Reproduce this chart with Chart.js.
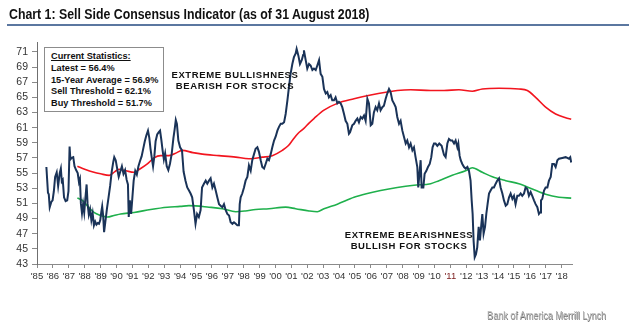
<!DOCTYPE html>
<html>
<head>
<meta charset="utf-8">
<script src="https://cdn.jsdelivr.net/npm/chart.js@4/dist/chart.umd.min.js"></script>
<style>
  html, body { margin: 0; padding: 0; background: #fff; overflow: hidden; }
  #wrap { position: relative; width: 637px; height: 336px; font-family: "Liberation Sans", Arial, sans-serif; }
  #chart { position: absolute; left: 0; top: 0; }
  .title { position: absolute; left: 9px; top: 6px; font-weight: bold; font-size: 14px; line-height: 16px; color: #111; white-space: nowrap; transform: scaleX(0.88); transform-origin: left top; }
  .rule { position: absolute; left: 7px; top: 24px; width: 622px; height: 1.5px; background: #5b77a0; }
  .stats { position: absolute; left: 44px; top: 47px; width: 120px; height: 65px; box-sizing: border-box; border: 1px solid #8c8c8c; background: #fff; padding: 3px 0 0 6px; font-weight: bold; font-size: 9.2px; line-height: 11.8px; color: #111; white-space: nowrap; }
  .stats u { text-decoration-thickness: 1px; }
  .note { position: absolute; width: 170px; text-align: center; font-weight: bold; font-size: 9.5px; letter-spacing: 0.6px; line-height: 10.6px; color: #111; white-space: nowrap; }
  .footer { position: absolute; right: 31px; top: 308px; font-size: 11px; line-height: 14px; color: #b4b4b4; text-shadow: 0.6px 0.6px 0 #6e6e6e; white-space: nowrap; transform: scaleX(0.82); transform-origin: right top; }
</style>
</head>
<body>
<div id="wrap">
  <canvas id="chart" width="637" height="336"></canvas>
  <div class="title">Chart 1: Sell Side Consensus Indicator (as of 31 August 2018)</div>
  <div class="rule"></div>
  <div class="stats">
    <u>Current Statistics:</u><br>
    Latest = 56.4%<br>
    15-Year Average = 56.9%<br>
    Sell Threshold = 62.1%<br>
    Buy Threshold = 51.7%
  </div>
  <div class="note" style="left:150px; top:70px;">EXTREME BULLISHNESS<br>BEARISH FOR STOCKS</div>
  <div class="note" style="left:324px; top:230px;">EXTREME BEARISHNESS<br>BULLISH FOR STOCKS</div>
  <div class="footer">Bank of America Merrill Lynch</div>
</div>
<script>
// Sell Side Consensus Indicator (fractional year, %)
const ssiYears = [
  1985.59, 1985.69, 1985.74, 1985.80, 1985.90, 1985.98, 1986.06, 1986.14, 1986.24, 1986.33,
  1986.43, 1986.50, 1986.56, 1986.62, 1986.70, 1986.80, 1986.90, 1986.98, 1987.05, 1987.10,
  1987.18, 1987.28, 1987.36, 1987.46, 1987.56, 1987.64, 1987.70, 1987.76, 1987.83, 1987.90,
  1987.97, 1988.04, 1988.12, 1988.18, 1988.26, 1988.34, 1988.42, 1988.50, 1988.58, 1988.66,
  1988.74, 1988.82, 1988.90, 1988.98, 1989.04, 1989.10, 1989.16, 1989.22, 1989.30, 1989.40,
  1989.50, 1989.60, 1989.70, 1989.80, 1989.86, 1989.95, 1990.05, 1990.14, 1990.24, 1990.34,
  1990.44, 1990.54, 1990.64, 1990.72, 1990.77, 1990.84, 1990.92, 1991.00, 1991.08, 1991.18,
  1991.28, 1991.38, 1991.48, 1991.58, 1991.68, 1991.78, 1991.88, 1991.98, 1992.06, 1992.14,
  1992.22, 1992.30, 1992.38, 1992.46, 1992.56, 1992.66, 1992.74, 1992.82, 1992.90, 1992.98,
  1993.06, 1993.16, 1993.26, 1993.36, 1993.47, 1993.58, 1993.66, 1993.73, 1993.80, 1993.89,
  1994.00, 1994.12, 1994.22, 1994.34, 1994.45, 1994.56, 1994.66, 1994.76, 1994.87, 1994.97,
  1995.07, 1995.18, 1995.29, 1995.38, 1995.50, 1995.61, 1995.71, 1995.82, 1995.92, 1996.03,
  1996.13, 1996.24, 1996.34, 1996.45, 1996.55, 1996.66, 1996.76, 1996.87, 1996.97, 1997.08,
  1997.18, 1997.29, 1997.39, 1997.50, 1997.60, 1997.70, 1997.75, 1997.81, 1997.91, 1998.02,
  1998.12, 1998.23, 1998.33, 1998.44, 1998.54, 1998.65, 1998.75, 1998.86, 1998.96, 1999.07,
  1999.17, 1999.28, 1999.38, 1999.49, 1999.59, 1999.70, 1999.80, 1999.91, 2000.01, 2000.12,
  2000.22, 2000.33, 2000.43, 2000.54, 2000.64, 2000.75, 2000.85, 2000.95, 2001.06, 2001.16,
  2001.27, 2001.33, 2001.44, 2001.54, 2001.65, 2001.74, 2001.79, 2001.90, 2002.00, 2002.11,
  2002.21, 2002.32, 2002.42, 2002.53, 2002.63, 2002.74, 2002.84, 2002.95, 2003.05, 2003.16,
  2003.26, 2003.36, 2003.47, 2003.57, 2003.68, 2003.78, 2003.89, 2003.99, 2004.10, 2004.20,
  2004.31, 2004.41, 2004.52, 2004.62, 2004.69, 2004.83, 2004.94, 2005.04, 2005.15, 2005.25,
  2005.36, 2005.46, 2005.57, 2005.67, 2005.78, 2005.88, 2005.99, 2006.09, 2006.19, 2006.30,
  2006.40, 2006.51, 2006.61, 2006.72, 2006.82, 2006.93, 2007.03, 2007.14, 2007.24, 2007.35,
  2007.45, 2007.56, 2007.66, 2007.77, 2007.87, 2007.98, 2008.08, 2008.19, 2008.29, 2008.40,
  2008.50, 2008.61, 2008.71, 2008.81, 2008.92, 2008.98, 2009.07, 2009.13, 2009.19, 2009.30,
  2009.38, 2009.49, 2009.59, 2009.70, 2009.80, 2009.88, 2009.97, 2010.07, 2010.18, 2010.30,
  2010.45, 2010.60, 2010.70, 2010.81, 2010.91, 2011.02, 2011.12, 2011.23, 2011.33, 2011.44,
  2011.50, 2011.58, 2011.65, 2011.75, 2011.86, 2011.96, 2012.07, 2012.17, 2012.27, 2012.34,
  2012.40, 2012.46, 2012.53, 2012.61, 2012.69, 2012.78, 2012.86, 2012.95, 2013.01, 2013.09,
  2013.18, 2013.26, 2013.34, 2013.43, 2013.53, 2013.64, 2013.74, 2013.85, 2013.95, 2014.06,
  2014.16, 2014.27, 2014.37, 2014.48, 2014.58, 2014.69, 2014.79, 2014.90, 2015.00, 2015.10,
  2015.21, 2015.31, 2015.42, 2015.52, 2015.63, 2015.73, 2015.84, 2015.94, 2016.05, 2016.15,
  2016.26, 2016.36, 2016.47, 2016.57, 2016.64, 2016.70, 2016.78, 2016.89, 2016.99, 2017.10,
  2017.20, 2017.31, 2017.41, 2017.52, 2017.62, 2017.73, 2017.83, 2018.04, 2018.25, 2018.46,
  2018.54, 2018.60
];
const ssiValues = [
  55.8, 52.4, 52.2, 50.5, 51.2, 51.4, 52.6, 54.5, 55.1, 53.3,
  55.0, 55.6, 53.9, 54.1, 51.8, 51.3, 51.4, 52.6, 58.5, 56.8,
  57.0, 57.1, 55.9, 55.4, 55.0, 53.8, 54.2, 51.0, 49.7, 50.9,
  49.8, 51.6, 53.5, 51.0, 49.5, 50.2, 48.8, 49.7, 48.1, 48.6,
  48.2, 48.4, 48.3, 48.8, 49.8, 50.6, 49.4, 47.2, 48.6, 50.3,
  51.8, 53.3, 55.2, 56.5, 57.1, 56.7, 55.5, 54.5, 55.2, 55.9,
  54.9, 55.4, 54.1, 53.5, 49.2, 51.4, 49.6, 51.8, 54.0, 55.3,
  54.8, 55.9, 56.6, 57.2, 58.2, 59.2, 60.0, 60.6, 59.7, 58.2,
  57.0, 55.9, 57.2, 59.2, 60.1, 60.4, 60.6, 59.4, 58.0, 56.8,
  57.6, 55.9, 55.4, 56.2, 57.5, 59.6, 60.8, 62.0, 61.5, 59.3,
  58.4, 58.0, 55.2, 54.0, 53.1, 52.7, 52.3, 51.8, 50.1, 48.3,
  49.6, 49.2, 50.1, 53.1, 53.6, 54.0, 53.6, 54.0, 54.3, 53.1,
  53.6, 52.7, 51.8, 50.9, 50.7, 50.5, 50.9, 50.1, 49.6, 49.4,
  48.5, 48.3, 48.5, 48.3, 48.1, 48.1, 50.9, 51.8, 52.3, 53.1,
  54.0, 54.5, 56.0, 55.3, 56.7, 57.5, 58.2, 58.4, 57.8, 56.7,
  55.8, 55.6, 56.2, 56.9, 56.7, 57.5, 58.4, 59.3, 59.8, 60.6,
  61.1, 61.5, 61.5, 61.7, 62.8, 64.6, 66.4, 68.1, 69.4, 70.3,
  70.8, 71.4, 70.5, 69.4, 69.9, 70.6, 71.2, 69.9, 68.8, 69.4,
  69.2, 68.6, 68.8, 68.6, 69.2, 69.9, 68.1, 67.7, 66.1, 65.5,
  65.7, 65.0, 65.3, 64.6, 64.6, 65.0, 64.2, 64.4, 64.2, 63.7,
  62.8, 61.9, 61.5, 60.2, 60.4, 61.3, 61.5, 61.9, 62.2, 61.7,
  62.4, 62.2, 62.6, 61.9, 64.8, 64.2, 61.3, 61.5, 63.0, 63.7,
  63.3, 64.2, 63.3, 63.7, 63.9, 64.8, 65.5, 66.1, 65.7, 64.6,
  64.2, 63.7, 62.4, 61.5, 61.9, 60.6, 59.8, 58.9, 59.3, 58.4,
  58.9, 58.0, 58.4, 57.1, 55.8, 53.1, 55.3, 56.7, 53.1, 53.1,
  54.9, 55.3, 55.8, 56.2, 57.1, 58.4, 58.9, 58.9, 58.6, 58.9,
  58.6, 57.4, 57.1, 58.9, 59.5, 59.3, 59.3, 58.9, 59.3, 58.4,
  58.9, 57.3, 56.7, 56.2, 55.8, 55.6, 55.8, 55.3, 54.0, 51.4,
  49.6, 46.1, 43.9, 44.3, 45.2, 47.9, 46.1, 48.3, 49.6, 47.0,
  47.9, 49.6, 50.9, 52.3, 52.7, 53.1, 53.1, 53.6, 54.0, 54.3,
  53.1, 52.3, 51.4, 50.7, 50.9, 51.8, 52.3, 51.6, 52.0, 50.9,
  52.0, 52.0, 52.3, 52.0, 52.3, 53.1, 52.9, 52.0, 52.5, 52.0,
  51.4, 50.9, 50.5, 49.6, 49.8, 51.4, 51.6, 52.7, 53.1, 53.1,
  54.0, 54.5, 56.2, 56.2, 55.8, 56.7, 56.9, 57.0, 57.1, 56.9,
  57.1, 56.4
];

// Sell threshold (red)
const sellYears = [
  1987.54, 1988.00, 1988.58, 1989.00, 1989.55, 1989.90, 1990.16, 1990.60, 1991.10, 1991.52,
  1991.94, 1992.36, 1992.78, 1993.30, 1993.80, 1994.14, 1994.80, 1995.40, 1996.45, 1997.50,
  1998.33, 1999.17, 1999.80, 2000.43, 2000.80, 2001.06, 2001.40, 2001.79, 2002.11, 2002.42,
  2003.05, 2003.89, 2004.94, 2005.99, 2007.03, 2007.66, 2008.50, 2009.76, 2010.60, 2011.54,
  2012.38, 2013.01, 2014.06, 2015.31, 2015.84, 2016.36, 2016.99, 2017.62, 2018.25, 2018.60
];
const sellValues = [
  55.9, 55.5, 55.1, 54.9, 54.7, 55.2, 55.5, 55.3, 55.1, 55.6,
  56.2, 57.0, 57.3, 57.3, 57.7, 58.0, 57.7, 57.5, 57.3, 57.1,
  56.9, 57.1, 57.3, 58.0, 58.6, 59.3, 60.2, 60.9, 61.6, 62.2,
  63.3, 64.2, 64.8, 65.3, 65.7, 65.9, 66.0, 65.9, 65.9, 66.0,
  65.8, 66.1, 66.2, 66.1, 65.9, 65.0, 63.7, 62.8, 62.3, 62.1
];

// Buy threshold (green)
const buyYears = [
  1987.54, 1987.85, 1988.16, 1988.58, 1989.00, 1989.42, 1989.84, 1990.26, 1991.10, 1992.15,
  1993.20, 1994.00, 1994.56, 1995.82, 1996.66, 1997.50, 1998.10, 1998.75, 1999.59, 2000.64,
  2001.27, 2002.11, 2002.63, 2003.05, 2003.89, 2004.94, 2005.78, 2006.61, 2007.66, 2008.71,
  2009.76, 2010.28, 2011.12, 2011.96, 2012.38, 2013.01, 2013.64, 2014.48, 2015.31, 2016.15,
  2016.99, 2017.83, 2018.60
];
const buyValues = [
  51.7, 51.4, 50.7, 49.8, 49.4, 49.2, 49.4, 49.6, 49.8, 50.2,
  50.5, 50.6, 50.7, 50.5, 50.3, 49.9, 50.0, 50.2, 50.3, 50.5,
  50.3, 50.0, 49.9, 50.3, 50.9, 51.8, 52.3, 52.7, 53.1, 53.4,
  53.6, 54.0, 54.7, 55.3, 55.7, 55.1, 54.5, 54.0, 53.6, 52.9,
  52.2, 51.8, 51.7
];

const yTickValues = [43, 45, 47, 49, 51, 53, 55, 57, 59, 61, 63, 65, 67, 69, 71];
const xTickYears = [
  1985, 1986, 1987, 1988, 1989, 1990, 1991, 1992, 1993, 1994, 1995, 1996,
  1997, 1998, 1999, 2000, 2001, 2002, 2003, 2004, 2005, 2006, 2007, 2008,
  2009, 2010, 2011, 2012, 2013, 2014, 2015, 2016, 2017, 2018
];

const toPoints = (xs, ys) => xs.map((x, i) => ({ x: x, y: ys[i] }));

new Chart(document.getElementById('chart'), {
    type: 'line',
    data: {
        datasets: [
            {
                label: 'Sell Side Indicator',
                data: toPoints(ssiYears, ssiValues),
                borderColor: '#1a3358',
                borderWidth: 2,
                pointRadius: 0,
                tension: 0,
            },
            {
                label: 'Sell Threshold',
                data: toPoints(sellYears, sellValues),
                borderColor: '#f2151f',
                borderWidth: 1.6,
                pointRadius: 0,
                cubicInterpolationMode: 'monotone',
            },
            {
                label: 'Buy Threshold',
                data: toPoints(buyYears, buyValues),
                borderColor: '#1fb04c',
                borderWidth: 1.6,
                pointRadius: 0,
                cubicInterpolationMode: 'monotone',
            },
        ],
    },
    options: {
        responsive: false,
        animation: false,
        layout: { padding: { left: 0, right: 65, top: 42, bottom: 0 } },
        plugins: { legend: { display: false }, tooltip: { enabled: false } },
        scales: {
            x: {
                type: 'linear',
                min: 1985,
                max: 2018.65,
                afterBuildTicks: (axis) => { axis.ticks = xTickYears.map((v) => ({ value: v })); },
                afterFit: (axis) => { axis.height = 72; },
                grid: { drawOnChartArea: false, tickLength: 4, color: '#8a8a8a' },
                border: { color: '#8a8a8a' },
                ticks: {
                    autoSkip: false,
                    maxRotation: 0,
                    minRotation: 0,
                    padding: 3,
                    font: { family: '"Liberation Sans", Arial', size: 9.5 },
                    color: (ctx) => (ctx.tick && ctx.tick.value === 2011 ? '#7a1c1c' : '#333'),
                    callback: (v) => "'" + String(v).slice(2),
                },
            },
            y: {
                min: 43,
                max: 72.3,
                afterBuildTicks: (axis) => { axis.ticks = yTickValues.map((v) => ({ value: v })); },
                afterFit: (axis) => { axis.width = 37; },
                grid: { drawOnChartArea: false, tickLength: 5, color: '#8a8a8a' },
                border: { color: '#6f6f6f' },
                ticks: {
                    padding: 4,
                    font: { family: '"Liberation Sans", Arial', size: 10.5 },
                    color: '#333',
                },
            },
        },
    },
});
</script>
</body>
</html>
